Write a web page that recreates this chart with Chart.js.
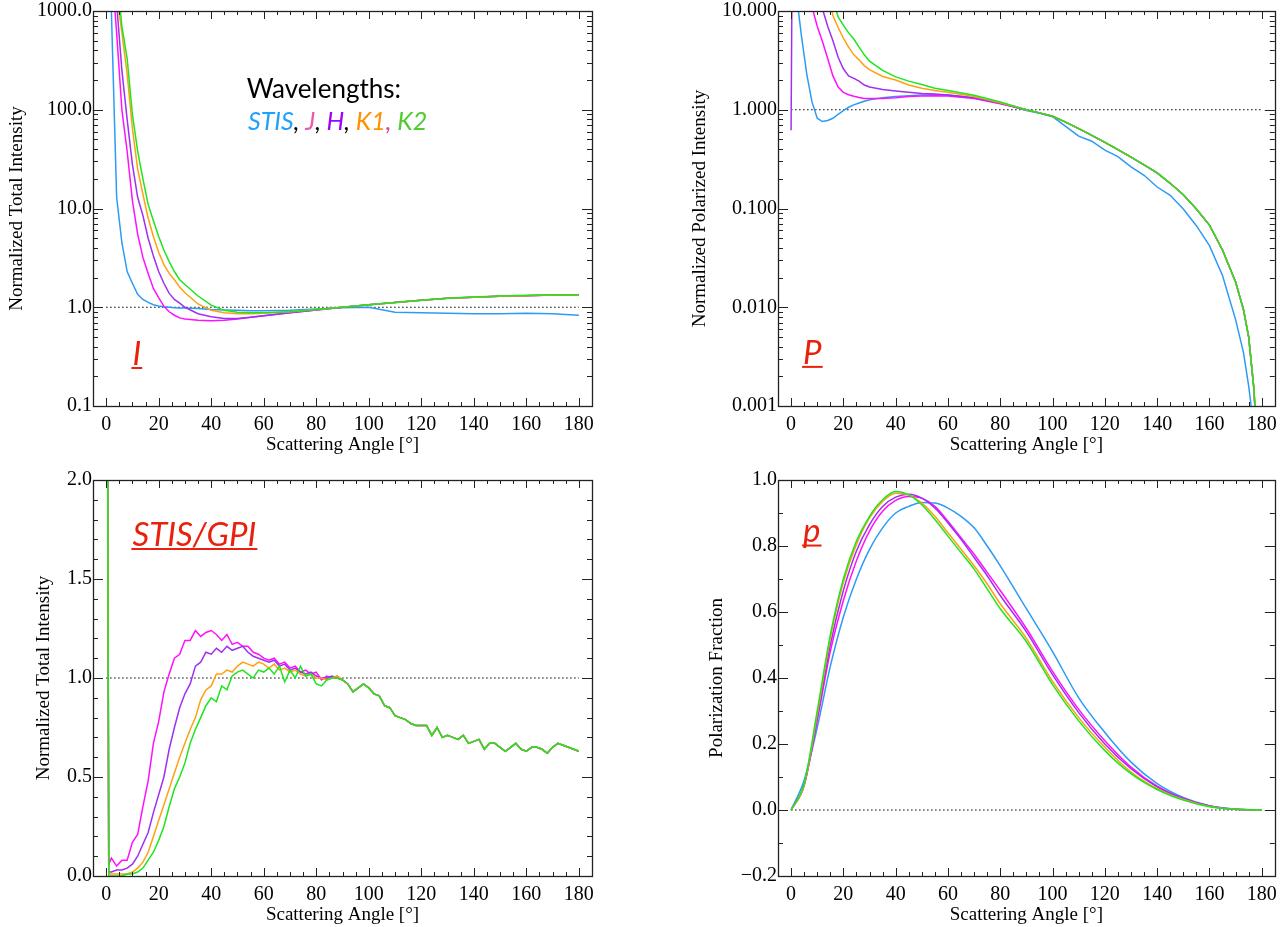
<!DOCTYPE html>
<html>
<head>
<meta charset="utf-8">
<title>Scattering phase functions</title>
<script src="https://cdn.jsdelivr.net/npm/chart.js@4.4.0/dist/chart.umd.min.js"></script>
<style>
    html, body { margin: 0; padding: 0; background: #fff; }
    #wrap { position: relative; width: 1286px; height: 927px; }
    canvas { position: absolute; }
</style>
</head>
<body>
<div id="wrap">
    <canvas id="panel-i" width="643" height="463" style="left:0;top:0;width:643px;height:463px"></canvas>
    <canvas id="panel-p" width="643" height="463" style="left:643px;top:0;width:643px;height:463px"></canvas>
    <canvas id="panel-s" width="643" height="464" style="left:0;top:463px;width:643px;height:464px"></canvas>
    <canvas id="panel-f" width="643" height="464" style="left:643px;top:463px;width:643px;height:464px"></canvas>
</div>
<script>
// ---------- data ----------
const seriesNames = ['STIS', 'J', 'H', 'K1', 'K2'];
const lineColors = ['#2c9bf6', '#ff10ff', '#a030f0', '#ffa010', '#1ee61e'];
const legendColors = ['#1ea0ff', '#ee5aaa', '#a000ff', '#ff9000', '#50cc30'];
const angleTicks = [0, 20, 40, 60, 80, 100, 120, 140, 160, 180];

// Total intensity (log)
const anglesI = [0, 2, 4, 6, 8, 10, 12, 14, 16, 18, 20, 22, 24, 26, 28, 30, 35, 40, 45, 50, 55, 60, 70, 80, 90, 100, 110, 120, 130, 140, 150, 160, 170, 180];
const stisI = [1e5, 1000, 13, 4.5, 2.3, 1.75, 1.35, 1.2, 1.12, 1.06, 1.03, 1.01, 1.0, 0.99, 0.98, 0.98, 0.97, 0.95, 0.94, 0.93, 0.92, 0.92, 0.93, 0.96, 0.99, 1.0, 0.89, 0.88, 0.87, 0.86, 0.86, 0.87, 0.86, 0.83];
const jI = [1e5, 3000, 600, 100, 38, 12, 5.5, 3.2, 2.2, 1.55, 1.25, 1.02, 0.9, 0.83, 0.78, 0.76, 0.74, 0.73, 0.74, 0.76, 0.79, 0.82, 0.88, 0.94, 1.0, 1.06, 1.12, 1.18, 1.23, 1.26, 1.29, 1.31, 1.33, 1.33];
const hI = [1e5, 5000, 1200, 250, 80, 28, 13, 8.5, 5, 3.3, 2.3, 1.75, 1.38, 1.2, 1.1, 1.0, 0.86, 0.8, 0.77, 0.77, 0.79, 0.82, 0.88, 0.94, 1.0, 1.06, 1.12, 1.18, 1.23, 1.26, 1.29, 1.31, 1.33, 1.33];
const k1I = [1e5, 8000, 1500, 600, 230, 65, 25, 14, 8, 5.2, 3.6, 2.7, 2.2, 1.9, 1.6, 1.4, 1.08, 0.93, 0.88, 0.86, 0.86, 0.87, 0.9, 0.95, 1.0, 1.06, 1.12, 1.18, 1.23, 1.26, 1.29, 1.31, 1.33, 1.33];
const k2I = [1e5, 1e4, 2500, 700, 330, 90, 38, 20, 11, 7.5, 5.2, 3.8, 2.9, 2.3, 1.9, 1.7, 1.3, 1.05, 0.93, 0.89, 0.88, 0.88, 0.9, 0.95, 1.0, 1.06, 1.12, 1.18, 1.23, 1.27, 1.3, 1.32, 1.34, 1.34];
const ticksI = [0.1, 1, 10, 100, 1000];

// Polarized intensity (log)
const anglesP = [0, 1, 2, 4, 6, 8, 10, 12, 14, 16, 18, 20, 22, 24, 26, 28, 30, 35, 40, 45, 50, 55, 60, 70, 80, 90, 95, 100, 105, 110, 115, 120, 125, 130, 135, 140, 145, 150, 155, 160, 165, 170, 173, 175, 177, 178];
const stisP = [1e5, 1e4, 15, 5.5, 2.3, 1.2, 0.82, 0.76, 0.78, 0.82, 0.9, 0.98, 1.06, 1.12, 1.17, 1.22, 1.26, 1.32, 1.36, 1.39, 1.41, 1.42, 1.41, 1.32, 1.17, 0.98, 0.92, 0.85, 0.68, 0.54, 0.48, 0.39, 0.335, 0.264, 0.217, 0.165, 0.136, 0.099, 0.067, 0.042, 0.021, 0.0075, 0.0035, 0.0016, 0.0006, 0.0003];
const jHeadP = [1e5, 1e4, 3000, 300, 50, 11, 7, 4.9, 3.3, 2.2, 1.7, 1.5, 1.42, 1.37, 1.33, 1.3, 1.3, 1.3, 1.32, 1.36, 1.38, 1.39, 1.38, 1.3, 1.15, 1.0];
const hHeadP = [0.62, 1e4, 5000, 800, 150, 45, 20, 10.5, 7, 5, 3.4, 2.6, 2.2, 2.08, 1.95, 1.78, 1.7, 1.6, 1.55, 1.5, 1.46, 1.44, 1.41, 1.32, 1.16, 1.0];
const k1HeadP = [1e5, 1e4, 5000, 2000, 800, 300, 100, 40, 15, 9, 6.8, 5.3, 4.3, 3.6, 3.2, 2.8, 2.55, 2.17, 2.0, 1.78, 1.65, 1.57, 1.5, 1.36, 1.18, 1.0];
const k2HeadP = [1e5, 1e4, 8000, 3000, 1200, 500, 200, 80, 30, 13, 8.7, 7.2, 6.0, 5.2, 4.3, 3.6, 3.1, 2.5, 2.15, 1.95, 1.8, 1.65, 1.57, 1.4, 1.2, 1.0];
const gpiTailP = [0.93, 0.86, 0.75, 0.645, 0.55, 0.468, 0.394, 0.331, 0.277, 0.229, 0.18, 0.138, 0.099, 0.068, 0.038, 0.018, 0.0095, 0.005, 0.0015, 0.0005];
const ticksP = [0.001, 0.01, 0.1, 1, 10];

// STIS/GPI total intensity ratio (linear)
const anglesS = [0, 1, 2, 4, 6, 8, 10, 12, 14, 16, 18, 20, 22, 24, 26, 28, 30, 32, 34, 36, 38, 40, 42, 44, 46, 48, 50, 52, 54, 56, 58, 60, 62, 64, 66, 68, 70, 72, 74, 76, 78, 80, 82, 84, 86, 88,
    90, 92, 94, 96, 98, 100, 102, 104, 106, 108, 110, 112, 114, 116, 118, 120, 122, 124, 126, 128, 130, 132, 134, 136, 138, 140, 142, 144, 146, 148, 150, 152, 154, 156, 158, 160, 162, 164, 166, 168, 170, 172, 174, 176, 178, 180];
const jHeadS = [5, 0.06, 0.09, 0.05, 0.08, 0.08, 0.17, 0.21, 0.35, 0.48, 0.67, 0.78, 0.93, 1.02, 1.1, 1.12, 1.19, 1.19, 1.24, 1.21, 1.23, 1.24, 1.22, 1.19, 1.22, 1.17, 1.18, 1.16, 1.16, 1.13, 1.12, 1.1, 1.09, 1.1, 1.07, 1.08, 1.05, 1.06, 1.03, 1.04, 1.02, 1.03, 0.99, 1.01, 1.0, 1.01];
const hHeadS = [5, 0.02, 0.02, 0.03, 0.03, 0.04, 0.06, 0.1, 0.16, 0.22, 0.32, 0.41, 0.5, 0.64, 0.75, 0.85, 0.92, 0.97, 1.06, 1.08, 1.13, 1.12, 1.15, 1.13, 1.16, 1.14, 1.15, 1.16, 1.13, 1.11, 1.1, 1.09, 1.08, 1.09, 1.06, 1.07, 1.04, 1.05, 1.03, 1.02, 1.03, 1.01, 1.0, 1.0, 1.01, 1.0];
const k1HeadS = [5, 0.01, 0.01, 0.01, 0.01, 0.01, 0.02, 0.04, 0.07, 0.12, 0.2, 0.28, 0.36, 0.44, 0.52, 0.6, 0.67, 0.74, 0.8, 0.89, 0.94, 0.96, 1.02, 1.02, 1.04, 1.03, 1.06, 1.08, 1.07, 1.06, 1.08, 1.07, 1.05, 1.07, 1.04, 1.05, 1.03, 1.04, 1.02, 1.01, 1.02, 1.0, 1.0, 0.99, 1.0, 1.01];
const k2HeadS = [5, 0.0, 0.0, 0.0, 0.0, 0.01, 0.01, 0.02, 0.04, 0.08, 0.12, 0.18, 0.25, 0.35, 0.44, 0.5, 0.57, 0.67, 0.74, 0.8, 0.86, 0.9, 0.88, 0.96, 0.94, 1.01, 1.03, 1.04, 1.02, 1.0, 1.04, 1.03, 1.05, 1.02, 1.06, 0.98, 1.04, 1.0, 1.06, 1.01, 1.02, 0.97, 0.96, 0.99, 1.0, 1.0];
const gpiTailS = [0.99, 0.97, 0.93, 0.95, 0.97, 0.95, 0.92, 0.91, 0.86, 0.85, 0.81, 0.8, 0.79, 0.77, 0.76, 0.76, 0.76, 0.71, 0.75, 0.7, 0.71, 0.7, 0.69, 0.71, 0.67, 0.68, 0.69, 0.64, 0.67, 0.67, 0.65, 0.63, 0.65, 0.67, 0.64, 0.63, 0.65, 0.65, 0.64, 0.62, 0.65, 0.67, 0.66, 0.65, 0.64, 0.63];
const ticksS = [0, 0.5, 1, 1.5, 2];

// Polarization fraction (linear)
const anglesF = [0, 5, 10, 15, 20, 25, 30, 35, 40, 45, 50, 55, 60, 65, 70, 75, 80, 90, 100, 110, 120, 130, 140, 150, 160, 170, 180];
const stisF = [0, 0.09, 0.25, 0.435, 0.585, 0.7, 0.79, 0.855, 0.9, 0.92, 0.932, 0.93, 0.915, 0.89, 0.855, 0.8, 0.74, 0.61, 0.48, 0.34, 0.235, 0.145, 0.08, 0.038, 0.013, 0.003, 0];
const jF = [0, 0.075, 0.27, 0.48, 0.635, 0.755, 0.845, 0.905, 0.938, 0.95, 0.945, 0.92, 0.875, 0.825, 0.775, 0.72, 0.665, 0.55, 0.42, 0.305, 0.21, 0.13, 0.072, 0.035, 0.012, 0.002, 0];
const hF = [0, 0.075, 0.28, 0.5, 0.665, 0.785, 0.865, 0.92, 0.948, 0.957, 0.945, 0.915, 0.87, 0.82, 0.765, 0.71, 0.65, 0.54, 0.41, 0.295, 0.2, 0.125, 0.07, 0.034, 0.012, 0.002, 0];
const k1F = [0, 0.075, 0.29, 0.52, 0.69, 0.805, 0.885, 0.935, 0.96, 0.955, 0.93, 0.89, 0.84, 0.79, 0.74, 0.685, 0.625, 0.52, 0.39, 0.28, 0.19, 0.115, 0.065, 0.032, 0.011, 0.002, 0];
const k2F = [0, 0.08, 0.3, 0.53, 0.7, 0.815, 0.89, 0.94, 0.965, 0.955, 0.925, 0.88, 0.83, 0.78, 0.73, 0.67, 0.61, 0.51, 0.38, 0.27, 0.18, 0.11, 0.062, 0.03, 0.01, 0.002, 0];
const ticksF = [-0.2, 0, 0.2, 0.4, 0.6, 0.8, 1.0];

// ---------- styling ----------
const serif = "'Liberation Serif', 'Times New Roman', serif";
const tickFont = { family: serif, size: 20, lineHeight: 1 };
const titleFont = { family: serif, size: 19, lineHeight: 1.2 };
const tagColor = '#e8200c';
const tagFont = "italic 33px Lato, 'Open Sans', sans-serif";

function fmt(v, digits) {
    const s = Math.abs(v).toFixed(digits);
    return v < -1e-9 ? '\u2212' + s : s;
}

// IDL-style frame with inward ticks on all four sides
const frameTicks = {
    id: 'frameTicks',
    afterDatasetsDraw(chart, args, o) {
        const { ctx, chartArea: a, scales: { x, y } } = chart;
        const r = v => Math.round(v) + 0.5;
        ctx.save();
        ctx.strokeStyle = '#222';
        ctx.lineWidth = 1;
        ctx.beginPath();
        // x ticks, every 5 degrees, major at 20
        for (let v = 0; v <= 180; v += 5) {
            const px = r(x.getPixelForValue(v));
            const len = v % 20 === 0 ? 8 : 4;
            ctx.moveTo(px, a.bottom); ctx.lineTo(px, a.bottom - len);
            ctx.moveTo(px, a.top); ctx.lineTo(px, a.top + len);
        }
        // y ticks
        const yMinor = [];
        if (o.log) {
            o.majors.slice(0, -1).forEach(d => { for (let k = 2; k <= 9; k++) yMinor.push(d * k); });
        } else {
            const n = Math.round((y.max - y.min) / 0.1);
            for (let i = 0; i <= n; i++) yMinor.push(y.min + i * 0.1);
        }
        const drawY = (v, len) => {
            const py = r(y.getPixelForValue(v));
            if (py < a.top - 1 || py > a.bottom + 1) return;
            ctx.moveTo(a.left, py); ctx.lineTo(a.left + len, py);
            ctx.moveTo(a.right, py); ctx.lineTo(a.right - len, py);
        };
        yMinor.forEach(v => drawY(v, 5));
        o.majors.forEach(v => drawY(v, 10));
        ctx.stroke();
        ctx.lineWidth = 1.3;
        ctx.strokeRect(r(a.left), r(a.top), Math.round(a.right - a.left), Math.round(a.bottom - a.top));
        ctx.restore();
    }
};

// Text placed in data coordinates (legend words and red panel tags)
const notes = {
    id: 'notes',
    afterDraw(chart, args, o) {
        const { ctx, scales: { x, y } } = chart;
        (o.items || []).forEach(it => {
            let px = x.getPixelForValue(it.x);
            const py = y.getPixelForValue(it.y);
            const start = px;
            ctx.save();
            ctx.font = it.font;
            ctx.textBaseline = 'alphabetic';
            it.parts.forEach(([t, c]) => {
                ctx.fillStyle = c;
                ctx.fillText(t, px, py);
                px += ctx.measureText(t).width;
            });
            if (it.underline) {
                ctx.strokeStyle = it.parts[0][1];
                ctx.lineWidth = 2;
                ctx.beginPath();
                ctx.moveTo(start - 1, py + it.underline);
                ctx.lineTo(px + 1, py + it.underline);
                ctx.stroke();
            }
            ctx.restore();
        });
    }
};

function makePanel(p) {
    const datasets = [{
        data: [{ x: 0, y: p.ref }, { x: 180, y: p.ref }],
        borderColor: '#000',
        borderWidth: 1.2,
        borderDash: [1.5, 2.5],
        pointRadius: 0,
        order: 10
    }];
    p.lines.forEach(([vals, ci]) => {
        datasets.push({
            label: seriesNames[ci],
            data: p.angles.map((a, i) => ({ x: a, y: vals[i] })),
            borderColor: lineColors[ci],
            borderWidth: 1.5,
            pointRadius: 0,
            order: 5 - ci,
            cubicInterpolationMode: p.smooth ? 'monotone' : 'default'
        });
    });

    return new Chart(document.getElementById(p.id), {
        type: 'line',
        data: { datasets },
        options: {
            responsive: false,
            animation: false,
            devicePixelRatio: 1,
            layout: { padding: p.pad },
            plugins: {
                legend: { display: false },
                tooltip: { enabled: false },
                frameTicks: { log: p.yType === 'logarithmic', majors: p.yTicks },
                notes: { items: p.notes }
            },
            scales: {
                x: {
                    type: 'linear',
                    min: -5,
                    max: 185,
                    afterBuildTicks: s => { s.ticks = angleTicks.map(v => ({ value: v })); },
                    afterFit: s => { s.height = p.xHeight; },
                    grid: { display: false, drawTicks: false },
                    border: { display: false },
                    ticks: { font: tickFont, color: '#000', padding: 9, maxRotation: 0, autoSkip: false, callback: v => String(v) },
                    title: { display: true, text: 'Scattering Angle [\u00b0]', font: titleFont, color: '#000', padding: { top: 0, bottom: 0 } }
                },
                y: {
                    type: p.yType,
                    min: p.yMin,
                    max: p.yMax,
                    afterBuildTicks: s => { s.ticks = p.yTicks.map(v => ({ value: v })); },
                    afterFit: s => { s.width = p.yWidth; },
                    grid: { display: false, drawTicks: false },
                    border: { display: false },
                    ticks: { font: tickFont, color: '#000', padding: 1, autoSkip: false, callback: v => fmt(v, p.digits) },
                    title: { display: true, text: p.yTitle, font: titleFont, color: '#000', padding: { top: 0, bottom: 0 } }
                }
            }
        },
        plugins: [frameTicks, notes]
    });
}

const legendFont = "26px Lato, 'Open Sans', sans-serif";
const legendItalic = "italic 25px Lato, 'Open Sans', sans-serif";

makePanel({
    id: 'panel-i', yType: 'logarithmic', yMin: 0.1, yMax: 1000, yTicks: ticksI, digits: 1,
    yTitle: 'Normalized Total Intensity', ref: 1, angles: anglesI,
    lines: [[stisI, 0], [jI, 1], [hI, 2], [k1I, 3], [k2I, 4]],
    pad: { left: 5.6, right: 51, top: 10, bottom: 6.6 }, yWidth: 87.4, xHeight: 50.4,
    notes: [
        { x: 53.5, y: 130, font: legendFont, parts: [['Wavelengths:', '#000']] },
        { x: 54, y: 63, font: legendItalic, parts: [
            [seriesNames[0], legendColors[0]], [', ', '#000'],
            [seriesNames[1], legendColors[1]], [', ', '#000'],
            [seriesNames[2], legendColors[2]], [', ', '#000'],
            [seriesNames[3], legendColors[3]], [', ', '#d84090'],
            [seriesNames[4], legendColors[4]]
        ] },
        { x: 10, y: 0.26, font: tagFont, parts: [['I', tagColor]], underline: 3 }
    ]
});

makePanel({
    id: 'panel-p', yType: 'logarithmic', yMin: 0.001, yMax: 10, yTicks: ticksP, digits: 3,
    yTitle: 'Normalized Polarized Intensity', ref: 1, angles: anglesP,
    lines: [[stisP, 0], [jHeadP.concat(gpiTailP), 1], [hHeadP.concat(gpiTailP), 2],
            [k1HeadP.concat(gpiTailP), 3], [k2HeadP.concat(gpiTailP), 4]],
    pad: { left: 45.6, right: 10, top: 10, bottom: 6.6 }, yWidth: 89.4, xHeight: 50.4,
    notes: [{ x: 4.6, y: 0.00267, font: tagFont, parts: [['P', tagColor]], underline: 3 }]
});

makePanel({
    id: 'panel-s', yType: 'linear', yMin: 0, yMax: 2, yTicks: ticksS, digits: 1,
    yTitle: 'Normalized Total Intensity', ref: 1, angles: anglesS,
    lines: [[jHeadS.concat(gpiTailS), 1], [hHeadS.concat(gpiTailS), 2],
            [k1HeadS.concat(gpiTailS), 3], [k2HeadS.concat(gpiTailS), 4]],
    pad: { left: 32.6, right: 51, top: 17, bottom: 0.6 }, yWidth: 60.4, xHeight: 50.4,
    notes: [{ x: 10, y: 1.667, font: tagFont, parts: [['STIS/GPI', tagColor]], underline: 3 }]
});

makePanel({
    id: 'panel-f', yType: 'linear', yMin: -0.2, yMax: 1.0, yTicks: ticksF, digits: 1,
    yTitle: 'Polarization Fraction', ref: 0, angles: anglesF, smooth: true,
    lines: [[stisF, 0], [jF, 1], [hF, 2], [k1F, 3], [k2F, 4]],
    pad: { left: 62.6, right: 10, top: 17, bottom: 0.6 }, yWidth: 72.4, xHeight: 50.4,
    notes: [{ x: 4.6, y: 0.812, font: tagFont, parts: [['p', tagColor]], underline: 3.5 }]
});
</script>
</body>
</html>
